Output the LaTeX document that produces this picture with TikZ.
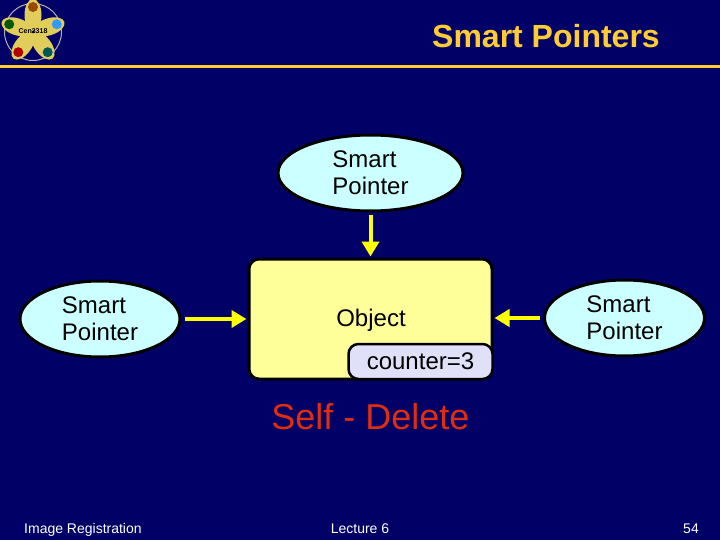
\documentclass[tikz,border=0pt]{standalone}
\usepackage{xcolor}
\usepackage{fontspec}
\setmainfont{Liberation Sans}
\usetikzlibrary{positioning,arrows.meta,shapes.geometric}
\definecolor{slidebg}{RGB}{0,0,102}
\definecolor{rulegold}{RGB}{255,204,51}
\definecolor{ptrfill}{RGB}{204,255,255}
\definecolor{objfill}{RGB}{255,255,153}
\definecolor{cntfill}{RGB}{224,224,248}
\definecolor{arrowyel}{RGB}{255,255,0}
\definecolor{selfred}{RGB}{225,45,15}
\definecolor{petal}{RGB}{225,205,90}
\definecolor{titlecol}{RGB}{255,204,51}

\begin{document}
\begin{tikzpicture}[x=1pt, y=-1pt,
  ptr/.style={ellipse, draw=black, line width=3pt, fill=ptrfill, minimum width=160pt,
              minimum height=76pt, inner sep=0pt, align=left, font=\fontsize{24}{27}\selectfont},
  obj/.style={draw=black, line width=3pt, fill=objfill, rounded corners=10pt,
              minimum width=243pt, minimum height=120pt, inner sep=0pt},
  cnt/.style={draw=black, line width=2.5pt, fill=cntfill, rounded corners=10pt, minimum width=144pt,
              minimum height=35pt, inner sep=0pt, font=\fontsize{24}{27}\selectfont},
  arr/.style={-{Triangle[length=15pt, width=17pt]}, arrowyel, line width=4pt, shorten <=3pt, shorten >=1pt},
  foot/.style={text=white, font=\fontsize{14}{16}\selectfont, inner sep=0pt},
  petalnode/.style={ellipse, fill=petal, minimum width=32pt, minimum height=17pt, inner sep=0pt},
  gem/.style={circle, minimum size=10pt, inner sep=0pt}]

\useasboundingbox (0,0) rectangle (720,540);
\fill[slidebg] (0,0) rectangle (720,540);

% logo
\begin{scope}[shift={(33,32)}]
\node[circle, draw=black!30, line width=1pt, minimum size=57pt, inner sep=0pt] (ring) at (0,0) {};
\foreach \ang/\col [count=\i] in {90/orange!60!black, 18/blue!50!cyan!80!white, -54/teal!70!black, -126/red!70!black, 162/green!35!black} {
  \node[petalnode, rotate=\ang] (petal\i) at (\ang:17pt) {};
  \node[gem, fill=\col] (gem\i) at (\ang:25pt) {};
}
\node[font=\fontsize{7}{8}\bfseries\selectfont, inner sep=0pt] (course) at (0,-1) {Cen3318};
\end{scope}

% title
\node[text=titlecol, font=\fontsize{32}{36}\bfseries\selectfont, anchor=east, inner sep=0pt] (title) at (660,36) {Smart Pointers};
\draw[rulegold, line width=3pt] (0,66.5) -- (720,66.5);

\node[obj] (object) at (370.5,319) {};
\node[font=\fontsize{24}{27}\selectfont, inner sep=0pt] (objlabel) at (371,320) {Object};
\node[cnt] (counter) at (420.5,361.5) {counter=3};

\node[ptr, minimum width=185pt] (top) at (370.5,173) {Smart\\Pointer};
\node[ptr] (left) at (100,319) {Smart\\Pointer};
\node[ptr] (right) at (624.5,318) {Smart\\Pointer};

\draw[arr] (top) -- (object);
\draw[arr] (left) -- (object);
\draw[arr] (right) -- (object.east |- right);

\node[text=selfred, font=\fontsize{36}{40}\selectfont, below=23pt of object, inner sep=0pt] (selfdel) {Self - Delete};

\node[foot, anchor=west] (footl) at (24,529.5) {Image Registration};
\node[foot] (footm) at (360,528.5) {Lecture 6};
\node[foot, anchor=east] (footr) at (699,529) {54};
\end{tikzpicture}
\end{document}
